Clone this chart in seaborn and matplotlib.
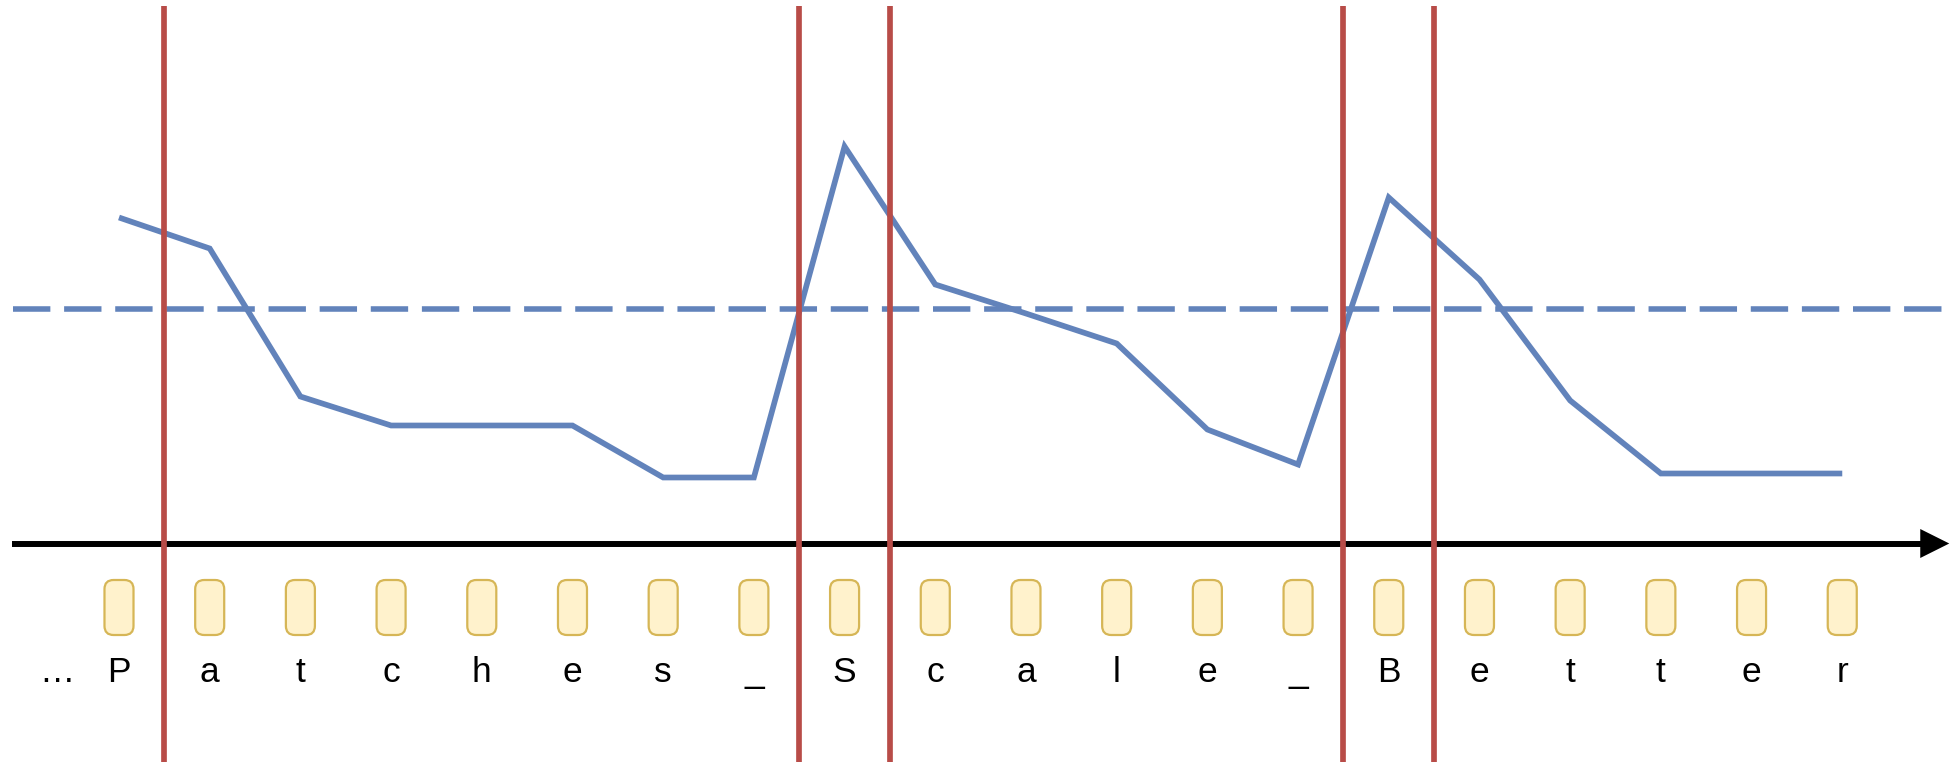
import numpy as np
import pandas as pd
import matplotlib.pyplot as plt
import seaborn as sns
from matplotlib.patches import FancyBboxPatch

sns.set_theme(style='white')
plt.rcParams['font.family'] = ['Liberation Sans', 'DejaVu Sans']

# Data: tokens, per-token entropy, threshold and patch boundaries
tokens = ['P', 'a', 't', 'c', 'h', 'e', 's', '_', 'S', 'c',
          'a', 'l', 'e', '_', 'B', 'e', 't', 't', 'e', 'r']
entropy = [3.26, 2.95, 1.47, 1.18, 1.18, 1.18, 0.66, 0.66, 3.97, 2.59,
           2.30, 2.00, 1.14, 0.79, 3.46, 2.64, 1.43, 0.70, 0.70, 0.70]
threshold = 2.35
boundaries = [0.5, 7.5, 8.5, 13.5, 14.5]

BLUE = '#6283bb'
RED = '#b84c48'
BOX_FILL = '#fff2cc'
BOX_EDGE = '#d6b656'

df = pd.DataFrame({'pos': np.arange(len(tokens)), 'entropy': entropy})

fig = plt.figure(figsize=(19.51, 7.62), dpi=100)
ax = fig.add_axes([0, 0, 1, 1])
xmin, xmax = -1.312, 20.199
ymin, ymax = -2.185, 5.435
ax.set_xlim(xmin, xmax)
ax.set_ylim(ymin, ymax)
ax.axis('off')

# time axis arrow
ax.plot([-1.18, 19.9], [0, 0], color='black', lw=4.3, solid_capstyle='butt', zorder=2)
ax.fill([19.86, 20.18, 19.86], [0.145, 0, -0.145], color='black', lw=0, zorder=2)

# threshold
ax.plot([-1.17, xmax], [threshold, threshold], color=BLUE, lw=4.0,
        dashes=(26.9 / 4.0, 9.9 / 4.0), zorder=3)

# entropy line
sns.lineplot(data=df, x='pos', y='entropy', ax=ax, color=BLUE, lw=4.1,
             sort=False, zorder=4)
for ln in ax.lines[-1:]:
    ln.set_solid_joinstyle('miter')
    ln.set_solid_capstyle('butt')

# patch boundaries
ax.vlines(boundaries, ymin, 5.375, color=RED, lw=4.1, zorder=5)

# token boxes and labels
bw, bh = 0.32, 0.55
for i, tok in enumerate(tokens):
    box = FancyBboxPatch((i - bw / 2, -0.64 - bh / 2), bw, bh,
                         boxstyle='round,pad=0,rounding_size=0.1',
                         mutation_aspect=0.907,
                         facecolor=BOX_FILL, edgecolor=BOX_EDGE, lw=1.6, zorder=3)
    ax.add_patch(box)
    ax.text(i, -1.385, tok, ha='center', va='baseline', fontsize=25.5,
            color='black', zorder=3)
ax.text(-0.68, -1.385, '…', ha='center', va='baseline', fontsize=25.5, color='black')

plt.savefig('out.png', dpi=100)
